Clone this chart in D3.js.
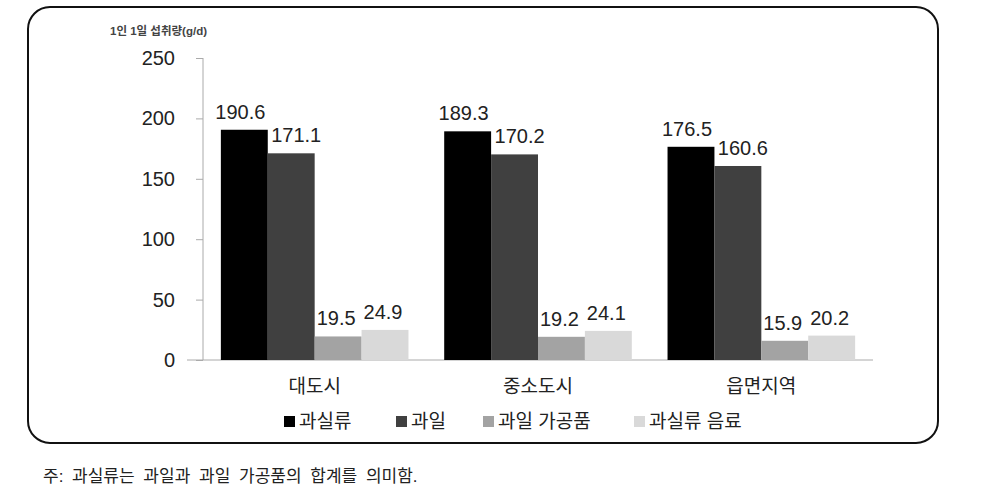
<!DOCTYPE html>
<html>
<head>
<meta charset="utf-8">
<script src="https://cdn.jsdelivr.net/npm/d3@7"></script>
<style>
  body { margin: 0; background: #fff; }
  text { font-family: "Liberation Sans", "Noto Sans CJK KR", sans-serif; }
</style>
</head>
<body>
<div id="chart"></div>
<script>
// data
var regions = ["대도시", "중소도시", "읍면지역"];
var seriesNames = ["과실류", "과일", "과일 가공품", "과실류 음료"];
var seriesColors = ["#000000", "#404040", "#a3a3a3", "#d9d9d9"];
var fruitTotal = [190.6, 189.3, 176.5];
var fruit = [171.1, 170.2, 160.6];
var processed = [19.5, 19.2, 15.9];
var beverage = [24.9, 24.1, 20.2];
var yTicks = [0, 50, 100, 150, 200, 250];

var seriesValues = [fruitTotal, fruit, processed, beverage];

var width = 1006, height = 499;
var svg = d3.select("#chart").append("svg")
    .attr("width", width)
    .attr("height", height);

// rounded frame
svg.append("rect")
    .attr("x", 28).attr("y", 7)
    .attr("width", 910).attr("height", 436)
    .attr("rx", 22).attr("ry", 22)
    .attr("fill", "none")
    .attr("stroke", "#111")
    .attr("stroke-width", 2);

var plotLeft = 203, plotRight = 873, plotTop = 58, plotBottom = 360;

var x0 = d3.scaleBand().domain(regions)
    .range([plotLeft, plotRight])
    .paddingInner(0.16).paddingOuter(0.08);
var x1 = d3.scaleBand().domain(d3.range(seriesNames.length))
    .range([0, x0.bandwidth()]);
var y = d3.scaleLinear().domain([0, 250]).range([plotBottom, plotTop]);

// y axis
var yAxis = svg.append("g")
    .attr("transform", "translate(" + plotLeft + ",0)")
    .call(d3.axisLeft(y).tickValues(yTicks).tickSize(7).tickPadding(21));
yAxis.select(".domain").attr("stroke", "#aaa").attr("d", "M0," + plotTop + "V" + plotBottom);
yAxis.selectAll(".tick line").attr("stroke", "#aaa");
yAxis.selectAll(".tick text")
    .attr("fill", "#222")
    .style("font-size", "20px");

// baseline
svg.append("line")
    .attr("x1", 187).attr("x2", plotRight)
    .attr("y1", y(0)).attr("y2", y(0))
    .attr("stroke", "#aaa");

// y title
svg.append("text")
    .attr("x", 110).attr("y", 35)
    .style("font-size", "11.5px")
    .style("font-weight", "bold")
    .attr("fill", "#444")
    .text("1인 1일 섭취량(g/d)");

// bars
var labelShift = [-4, 5, -2, -2];
var groups = svg.selectAll(".grp")
    .data(regions)
  .enter().append("g")
    .attr("class", "grp")
    .attr("transform", function(d) { return "translate(" + x0(d) + ",0)"; });

groups.selectAll("rect")
    .data(function(d, i) { return seriesValues.map(function(s, k) { return {k: k, v: s[i]}; }); })
  .enter().append("rect")
    .attr("x", function(d) { return x1(d.k); })
    .attr("width", x1.bandwidth())
    .attr("y", function(d) { return y(d.v); })
    .attr("height", function(d) { return y(0) - y(d.v); })
    .attr("fill", function(d) { return seriesColors[d.k]; });

groups.selectAll(".val")
    .data(function(d, i) { return seriesValues.map(function(s, k) { return {k: k, v: s[i]}; }); })
  .enter().append("text")
    .attr("class", "val")
    .attr("x", function(d) { return x1(d.k) + x1.bandwidth() / 2 + labelShift[d.k]; })
    .attr("y", function(d) { return y(d.v) - 11; })
    .attr("text-anchor", "middle")
    .style("font-size", "20px")
    .attr("fill", "#222")
    .text(function(d) { return d.v.toFixed(1); });

// category labels
svg.selectAll(".cat")
    .data(regions)
  .enter().append("text")
    .attr("class", "cat")
    .attr("x", function(d) { return x0(d) + x0.bandwidth() / 2; })
    .attr("y", 393)
    .attr("text-anchor", "middle")
    .style("font-size", "19px")
    .attr("fill", "#222")
    .text(function(d) { return d; });

// legend
var legendX = [284, 396, 483, 634];
var legend = svg.selectAll(".legend")
    .data(seriesNames)
  .enter().append("g")
    .attr("class", "legend")
    .attr("transform", function(d, i) { return "translate(" + legendX[i] + ",421)"; });
legend.append("rect")
    .attr("x", 0).attr("y", -5)
    .attr("width", 11).attr("height", 11)
    .attr("fill", function(d, i) { return seriesColors[i]; });
legend.append("text")
    .attr("x", 15).attr("y", 0)
    .attr("dy", "0.35em")
    .style("font-size", "19px")
    .attr("fill", "#222")
    .text(function(d) { return d; });

// footnote
svg.append("text")
    .attr("x", 43).attr("y", 482)
    .style("font-size", "17px")
    .style("word-spacing", "4px")
    .attr("fill", "#222")
    .text("주: 과실류는 과일과 과일 가공품의 합계를 의미함.");
</script>
</body>
</html>
